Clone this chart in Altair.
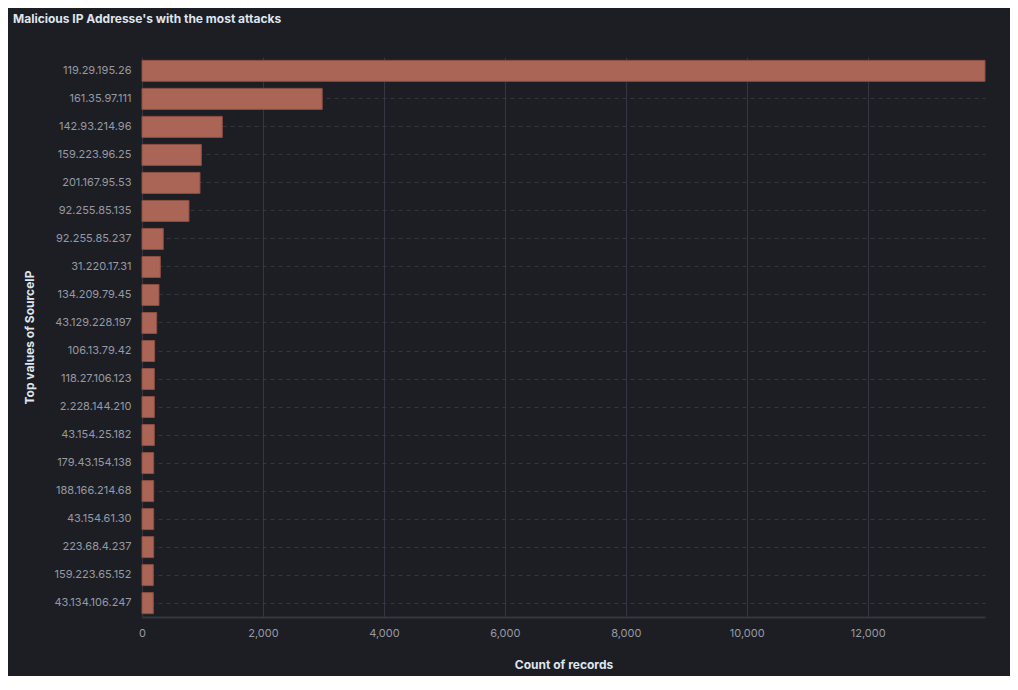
import altair as alt
import pandas as pd

ips = [
    "119.29.195.26", "161.35.97.111", "142.93.214.96", "159.223.96.25",
    "201.167.95.53", "92.255.85.135", "92.255.85.237", "31.220.17.31",
    "134.209.79.45", "43.129.228.197", "106.13.79.42", "118.27.106.123",
    "2.228.144.210", "43.154.25.182", "179.43.154.138", "188.166.214.68",
    "43.154.61.30", "223.68.4.237", "159.223.65.152", "43.134.106.247",
]
counts = [
    13940, 2980, 1328, 981, 959, 777, 352, 303, 281, 243,
    209, 204, 204, 204, 193, 193, 193, 193, 187, 187,
]
x_ticks = [0, 2000, 4000, 6000, 8000, 10000, 12000]

df = pd.DataFrame({"ip": ips, "count": counts})

BG = "#1d1e24"
GRID = "#343741"
LABEL = "#959aa3"
TITLE = "#dfe5ef"
FONT = "Inter"

chart = (
    alt.Chart(df)
    .mark_bar(color="#aa6556", stroke="#8c4e42", strokeWidth=1)
    .encode(
        x=alt.X(
            "count:Q",
            title="Count of records",
            scale=alt.Scale(domain=[0, max(counts)], nice=False),
            axis=alt.Axis(
                values=x_ticks,
                format=",d",
                grid=True,
                gridColor=GRID,
                gridWidth=1,
                domainColor=GRID,
                domainWidth=2,
                ticks=False,
                labelFlush=False,
                labelPadding=10,
                labelColor=LABEL,
                labelFontSize=11,
                labelFont=FONT,
                titleFont=FONT,
                titleFontSize=12,
                titleFontWeight="bold",
                titleColor=TITLE,
                titlePadding=21,
            ),
        ),
        y=alt.Y(
            "ip:N",
            sort=ips,
            title="Top values of SourceIP",
            scale=alt.Scale(paddingInner=0.25, paddingOuter=0.12),
            axis=alt.Axis(
                grid=True,
                gridColor=GRID,
                gridDash=[4, 4],
                gridWidth=1,
                domainColor=GRID,
                domainWidth=1,
                ticks=False,
                labelPadding=11,
                labelColor=LABEL,
                labelFontSize=11,
                labelFont=FONT,
                titleFont=FONT,
                titleFontSize=12,
                titleFontWeight="bold",
                titleColor=TITLE,
                titleX=-106,
                titleY=280,
            ),
        ),
    )
    .properties(
        width=843,
        height=560,
        background=BG,
        padding={"left": 134, "top": 49, "right": 25, "bottom": 59},
        autosize=alt.AutoSizeParams(type="none"),
        title=alt.TitleParams(
            "Malicious IP Addresse's with the most attacks",
            anchor="start",
            frame="group",
            font=FONT,
            fontSize=12,
            fontWeight="bold",
            color=TITLE,
            dx=-129,
            offset=31,
        ),
    )
    .configure_view(stroke=None)
)

chart.save("out.html", embed_options={"renderer": "svg", "actions": False})
